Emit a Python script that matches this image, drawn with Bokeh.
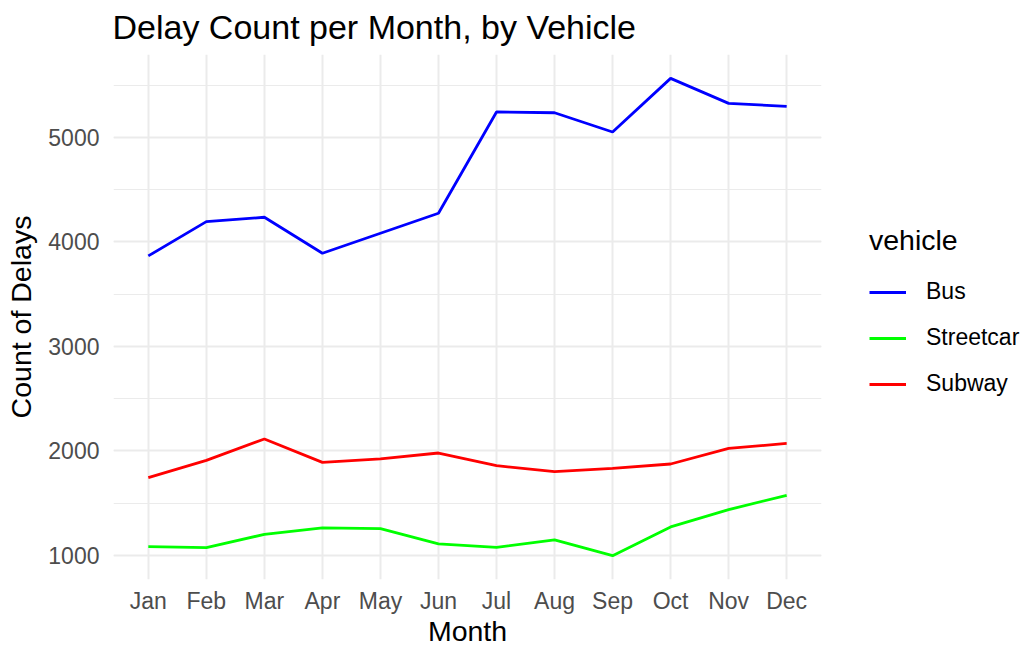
from bokeh.plotting import figure
from bokeh.models import Range1d, SingleIntervalTicker, FixedTicker, Legend, LegendItem
from bokeh.embed import file_html
from bokeh.resources import INLINE

months = ["Jan", "Feb", "Mar", "Apr", "May", "Jun", "Jul", "Aug", "Sep", "Oct", "Nov", "Dec"]
bus = [3865, 4193, 4235, 3891, 4082, 4273, 5242, 5235, 5051, 5564, 5325, 5296]
streetcar = [1083, 1074, 1201, 1262, 1255, 1109, 1077, 1147, 997, 1272, 1437, 1574]
subway = [1743, 1908, 2113, 1889, 1922, 1979, 1858, 1800, 1832, 1874, 2023, 2071]
series_names = ["Bus", "Streetcar", "Subway"]
series_values = [bus, streetcar, subway]
series_colors = ["#0000FF", "#00FF00", "#FF0000"]

FONT = "Liberation Sans"

xpos = list(range(1, len(months) + 1))
allv = bus + streetcar + subway
lo, hi = min(allv), max(allv)
pad = 0.05 * (hi - lo)

p = figure(
    frame_width=708, frame_height=525,
    x_range=Range1d(xpos[0] - 0.6, xpos[-1] + 0.6),
    y_range=Range1d(lo - pad, hi + pad),
    output_backend="svg", toolbar_location=None,
    min_border_left=113, min_border_right=205, min_border_top=54, min_border_bottom=69,
)
p.outline_line_color = None
p.background_fill_color = "white"
p.border_fill_color = "white"

renderers = []
for name, vals, col in zip(series_names, series_values, series_colors):
    r = p.line(xpos, vals, line_color=col, line_width=2.8)
    renderers.append((name, r))

# title
p.title.text = "Delay Count per Month, by Vehicle"
p.title.text_font = FONT
p.title.text_font_size = "34px"
p.title.text_font_style = "normal"
p.title.text_color = "black"
p.title.align = "left"
p.title.vertical_align = "top"
p.title.offset = -1
p.title.standoff = 14

# axes
p.xaxis.ticker = FixedTicker(ticks=xpos)
p.xaxis.major_label_overrides = {x: m for x, m in zip(xpos, months)}
p.yaxis.ticker = SingleIntervalTicker(interval=1000, num_minor_ticks=2)
for ax in (p.xaxis[0], p.yaxis[0]):
    ax.axis_line_color = None
    ax.major_tick_line_color = None
    ax.minor_tick_line_color = None
    ax.major_tick_out = 0
    ax.major_tick_in = 0
    ax.minor_tick_out = 0
    ax.major_label_text_font = FONT
    ax.major_label_text_font_size = "23px"
    ax.major_label_text_color = "#4D4D4D"
    ax.axis_label_text_font = FONT
    ax.axis_label_text_font_size = "28.5px"
    ax.axis_label_text_font_style = "normal"
    ax.axis_label_text_color = "black"
p.xaxis.axis_label = "Month"
p.yaxis.axis_label = "Count of Delays"
p.yaxis.major_label_standoff = 14
p.yaxis.axis_label_standoff = 8
p.xaxis.major_label_standoff = 8
p.xaxis.axis_label_standoff = -2

# grid
p.xgrid.grid_line_color = "#EBEBEB"
p.xgrid.grid_line_width = 2
p.ygrid.grid_line_color = "#EBEBEB"
p.ygrid.grid_line_width = 2
p.ygrid.minor_grid_line_color = "#EBEBEB"
p.ygrid.minor_grid_line_width = 1

legend = Legend(
    items=[LegendItem(label=n, renderers=[r]) for n, r in renderers],
    location=(48, 182),
    title="vehicle",
    title_text_font=FONT, title_text_font_size="28.5px", title_text_color="black",
    title_text_font_style="normal",
    label_text_font=FONT, label_text_font_size="23px", label_text_color="black",
    glyph_width=37, glyph_height=26, label_height=26, label_standoff=20,
    spacing=19, padding=0, margin=0, title_standoff=21,
    border_line_color=None, background_fill_alpha=0,
)
p.add_layout(legend, "right")

open("out.html", "w").write(file_html(p, INLINE))
